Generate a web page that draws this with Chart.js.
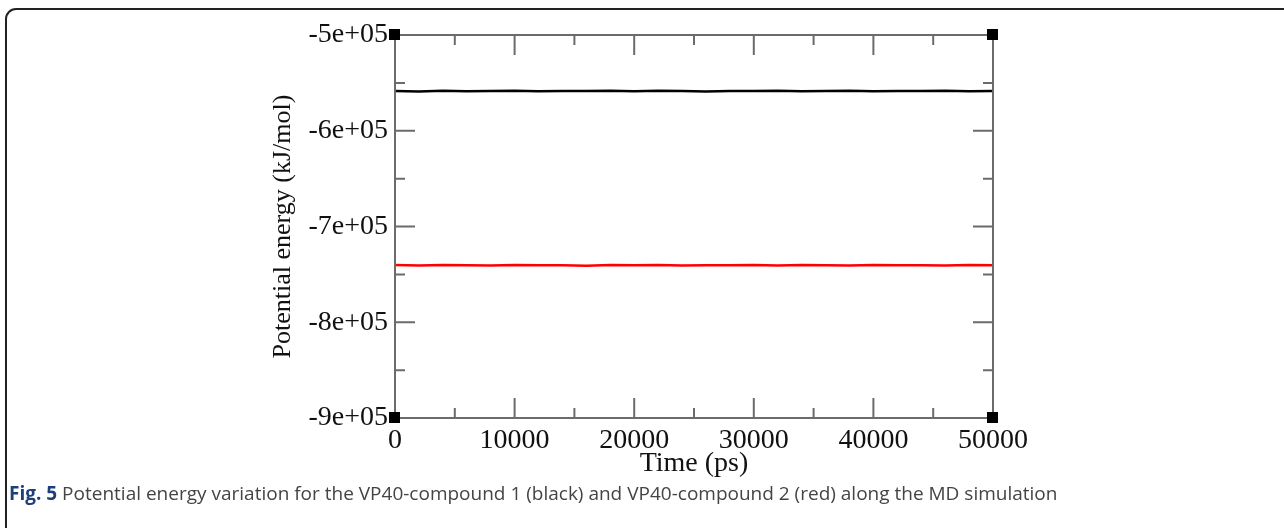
<!DOCTYPE html>
<html>
<head>
<meta charset="utf-8">
<script src="https://cdn.jsdelivr.net/npm/chart.js@4.4.1/dist/chart.umd.min.js"></script>
<style>
  html, body { margin: 0; padding: 0; background: #fff; }
  #wrap { position: relative; width: 1284px; height: 528px; overflow: hidden; }
  #box { position: absolute; left: 5px; top: 8px; width: 1300px; height: 530px;
         border: 2px solid #222; border-radius: 11px; box-sizing: border-box; }
  #graphCanvas { position: absolute; left: 0; top: 0; }
  #caption { position: absolute; left: 9px; top: 480px; font-family: "Open Sans", sans-serif;
             font-size: 19px; color: #444; white-space: nowrap; }
  #caption b { color: #1d3f7a; }
</style>
</head>
<body>
<div id="wrap">
  <div id="box"></div>
  <canvas id="graphCanvas" width="1284" height="528"></canvas>
  <div id="caption"><b>Fig. 5</b> Potential energy variation for the VP40-compound 1 (black) and VP40-compound 2 (red) along the MD simulation</div>
</div>
<script>
// time axis (ps) and energies (kJ/mol)
var timePs = [0, 2000, 4000, 6000, 8000, 10000, 12000, 14000, 16000, 18000, 20000, 22000, 24000,
              26000, 28000, 30000, 32000, 34000, 36000, 38000, 40000, 42000, 44000, 46000, 48000, 50000];
var compound1 = [-558400, -558900, -558200, -558700, -558500, -558100, -558800, -558400, -558600, -558300,
                 -558700, -558200, -558500, -558900, -558400, -558600, -558200, -558700, -558500, -558300,
                 -558800, -558400, -558600, -558200, -558700, -558500];
var compound2 = [-740300, -740700, -740100, -740500, -740800, -740200, -740600, -740400, -740900, -740300,
                 -740500, -740100, -740700, -740400, -740600, -740200, -740800, -740300, -740500, -740700,
                 -740200, -740600, -740400, -740800, -740300, -740500];
var yTicks = [-900000, -800000, -700000, -600000, -500000];
var xTicks = [0, 10000, 20000, 30000, 40000, 50000];

var axisFont = { family: "'Liberation Serif', 'Times New Roman', serif", size: 28 };
var yTitleFont = { family: "'Liberation Serif', 'Times New Roman', serif", size: 26 };

function toXY(xs, ys) {
    var out = [];
    for (var i = 0; i < xs.length; i++) out.push({ x: xs[i], y: ys[i] });
    return out;
}

// inward ticks on all four sides, frame and corner squares (xmgrace style)
var frame = {
    id: 'frame',
    afterDatasetsDraw: function(chart) {
        var ctx = chart.ctx, a = chart.chartArea;
        var xs = chart.scales.x, ys = chart.scales.y;
        ctx.save();
        ctx.strokeStyle = '#6b6b6b';
        ctx.lineWidth = 2;
        ctx.strokeRect(a.left, a.top, a.right - a.left, a.bottom - a.top);
        ctx.beginPath();
        for (var v = 0; v <= 50000; v += 5000) {
            var len = (v % 10000 === 0) ? 20 : 10;
            var px = xs.getPixelForValue(v);
            ctx.moveTo(px, a.bottom); ctx.lineTo(px, a.bottom - len);
            ctx.moveTo(px, a.top); ctx.lineTo(px, a.top + len);
        }
        for (var w = -900000; w <= -500000; w += 50000) {
            var l2 = (w % 100000 === 0) ? 20 : 10;
            var py = ys.getPixelForValue(w);
            ctx.moveTo(a.left, py); ctx.lineTo(a.left + l2, py);
            ctx.moveTo(a.right, py); ctx.lineTo(a.right - l2, py);
        }
        ctx.stroke();
        ctx.fillStyle = '#000';
        [[a.left, a.top], [a.right, a.top], [a.left, a.bottom], [a.right, a.bottom]].forEach(function(c) {
            ctx.fillRect(c[0] - 6, c[1] - 6, 11, 11);
        });
        ctx.restore();
    }
};

var graphTarget = document.getElementById('graphCanvas');
var lineGraph = new Chart(graphTarget, {
    type: 'line',
    data: {
        datasets: [{
            label: 'VP40-compound 1',
            data: toXY(timePs, compound1),
            borderColor: '#000',
            borderWidth: 2.5,
            pointRadius: 0,
            tension: 0
        }, {
            label: 'VP40-compound 2',
            data: toXY(timePs, compound2),
            borderColor: '#ff0000',
            borderWidth: 2.5,
            pointRadius: 0,
            tension: 0
        }]
    },
    options: {
        responsive: false,
        animation: false,
        layout: { padding: { top: 35, right: 291, left: 0, bottom: 0 } },
        plugins: { legend: { display: false }, tooltip: { enabled: false } },
        scales: {
            x: {
                type: 'linear',
                min: 0, max: 50000,
                afterBuildTicks: function(s) { s.ticks = xTicks.map(function(v) { return { value: v }; }); },
                afterFit: function(s) { s.height = 110; },
                grid: { display: false, drawTicks: false },
                border: { display: false },
                ticks: { font: axisFont, color: '#111', padding: 6, maxRotation: 0,
                         callback: function(v) { return String(v); } },
                title: { display: true, text: 'Time (ps)', font: axisFont, color: '#111',
                         padding: { top: 0, bottom: 48 } }
            },
            y: {
                type: 'linear',
                min: -900000, max: -500000,
                afterBuildTicks: function(s) { s.ticks = yTicks.map(function(v) { return { value: v }; }); },
                afterFit: function(s) { s.width = 395; },
                grid: { display: false, drawTicks: false },
                border: { display: false },
                ticks: { font: axisFont, color: '#111', padding: 7,
                         callback: function(v) { return (v / 100000) + 'e+05'; } },
                title: { display: true, text: 'Potential energy (kJ/mol)', font: yTitleFont, color: '#111',
                         padding: { top: 268, bottom: 0 } }
            }
        }
    },
    plugins: [frame]
});
</script>
</body>
</html>
